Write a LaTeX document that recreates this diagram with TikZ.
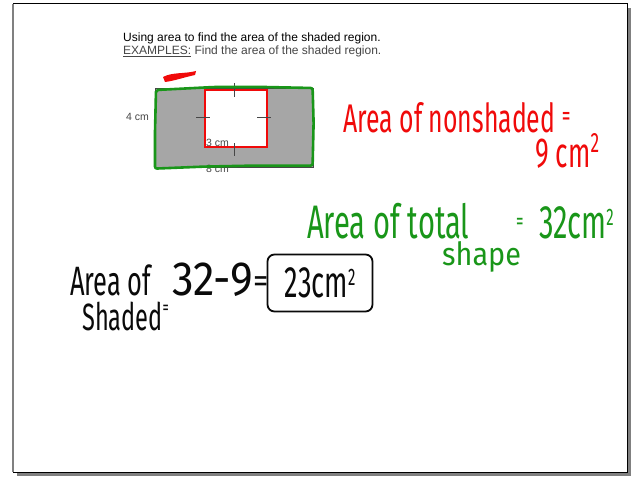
\documentclass[tikz,border=0pt]{standalone}
\usepackage{fontspec}
\setmainfont{Liberation Sans}
\newfontfamily\hand[FakeStretch=0.62]{Fira Sans}
\newfontfamily\handwide[FakeStretch=0.9]{Fira Sans}
\usetikzlibrary{calc, positioning}
\definecolor{inkred}{RGB}{240, 10, 10}
\definecolor{inkgreen}{RGB}{25, 150, 25}
\definecolor{inkblack}{RGB}{10, 10, 10}
\definecolor{shadegray}{RGB}{166, 166, 166}
\definecolor{labelgray}{RGB}{70, 70, 70}
\definecolor{framegray}{RGB}{128, 128, 128}
\newcommand{\handeq}[2]{\raisebox{#2}{\fontsize{#1}{#1}\selectfont =}}
\newcommand{\sqtwo}[2]{\raisebox{#2}{\fontsize{#1}{#1}\selectfont 2}}

\begin{document}
\begin{tikzpicture}[x=1pt, y=-1pt,
    titletext/.style={anchor=base west, inner sep=0pt, font=\fontsize{12}{14}\selectfont},
    dimlabel/.style={inner sep=0pt, text=labelgray, font=\fontsize{10.5}{12}\selectfont},
    shadedrect/.style={rectangle, fill=shadegray, draw=labelgray, line width=0.6pt,
        minimum width=158pt, minimum height=79pt, anchor=north west, inner sep=0pt},
    holerect/.style={rectangle, fill=white, draw=inkred, line width=2.4pt,
        minimum width=62pt, minimum height=57pt, anchor=north west, inner sep=0pt},
    tick/.style={draw=labelgray, line width=0.8pt},
    handred/.style={anchor=base west, inner sep=0pt, text=inkred},
    handgreen/.style={anchor=base west, inner sep=0pt, text=inkgreen,
        font=\hand\fontsize{47}{50}\selectfont},
    handblack/.style={anchor=base west, inner sep=0pt, text=inkblack},
    answerbox/.style={rectangle, draw=inkblack, line width=1.8pt, rounded corners=7pt,
        minimum width=105pt, minimum height=57pt, inner sep=0pt, text=inkblack}
]

\useasboundingbox (0,0) rectangle (631,476);

% === Page frame with shadow ===
\fill[framegray] (17,8) rectangle (631,476);
\filldraw[fill=white, draw=black, line width=1pt] (13,4) rectangle (627,472);
\draw[framegray, line width=2pt] (13,4) -- (13,472);

% === Worksheet title ===
\node[titletext] (title) at (123,42) {Using area to find the area of the shaded region.};
\node[titletext, text=labelgray] (examples) at (123,55)
    {\underline{EXAMPLES:} Find the area of the shaded region.};

% === Figure: rectangle with a square hole ===
\node[shadedrect] (outer) at (155,88) {};
\node[holerect] (hole) at (204,89) {};

% side marks on the square
\draw[tick] ($(hole.north)+(-2,-6)$) -- ($(hole.north)+(-2,8)$);
\draw[tick] ($(hole.west)+(-8,-1)$) -- ($(hole.west)+(6,-1)$);
\draw[tick] ($(hole.east)+(-11,-1)$) -- ($(hole.east)+(3,-1)$);
\draw[tick] ($(hole.south)+(-2,-5)$) -- ($(hole.south)+(-2,8)$);

% dimensions
\node[dimlabel, anchor=east] (side4) at (149,117) {4 cm};
\node[dimlabel, anchor=west] (side3) at (206,143) {3 cm};
\node[dimlabel, anchor=west] (side8) at (206,169) {8 cm};

% green outline round the whole shape
\draw[inkgreen, line width=2.6pt, rounded corners=2pt]
    ($(outer.north west)+(1,2)$) -- ($(outer.north)+(-20,-1)$) -- ($(outer.north)+(30,-1)$)
    -- ($(outer.north east)+(-1,0)$) -- ($(outer.east)+(0,-5)$) -- ($(outer.south east)+(-1,-2)$)
    -- ($(outer.south)+(20,-2)$) -- ($(outer.south)+(-30,-1)$) -- ($(outer.south west)+(0,1)$)
    -- ($(outer.west)+(0,4)$) -- cycle;

% red mark above the shape
\fill[inkred] (163,77) .. controls (172,72) and (185,74) .. (196,71)
    -- (195,75) .. controls (185,77) and (174,81) .. (165,82) -- cycle;

% === Area of the unshaded part (red) ===
\node[handred, font=\hand\fontsize{40}{44}\selectfont] (nonshaded) at (343,132)
    {Area of nonshaded\,\handeq{28}{7pt}};
\node[handred, font=\hand\fontsize{42}{44}\selectfont] (nine) at (535,167)
    {9\,cm\sqtwo{28}{15pt}};

% === Area of the total shape (green) ===
\node[handgreen] (total) at (307,238) {Area of total};
\node[handgreen, font=\handwide\fontsize{32}{36}\selectfont] (shape) at (442,265) {shape};
\node[handgreen] (thirtytwo) at (516,238) {\handeq{24}{9pt}\,\,32cm\sqtwo{24}{13pt}};

% === Area of the shaded part (black) ===
\node[handblack, font=\hand\fontsize{41}{44}\selectfont] (areaof) at (70,295)
    {Area of};
\node[handblack, font=\hand\fontsize{38}{42}\selectfont] (shaded) at (82,330)
    {Shaded\handeq{20}{16pt}};
\node[handblack, font=\handwide\fontsize{48}{54}\selectfont] (difference) at (172,295)
    {32-9\handeq{34}{3pt}};
\node[answerbox, font=\hand\fontsize{44}{48}\selectfont] (answer) at (320,283)
    {23cm\sqtwo{24}{12pt}};

\end{tikzpicture}
\end{document}
